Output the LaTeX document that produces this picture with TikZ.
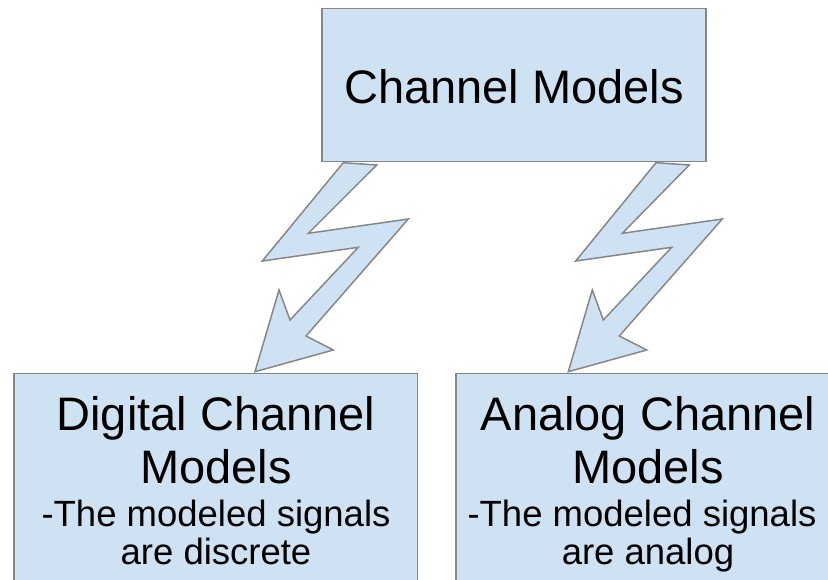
\documentclass[tikz,border=0pt]{standalone}
\usepackage{fontspec}
\setmainfont{Liberation Sans}
\definecolor{boxfill}{HTML}{CFE2F3}
\definecolor{boxline}{HTML}{878787}
\begin{document}
\begin{tikzpicture}[x=1pt,y=-1pt,
  box/.style={draw=boxline,fill=boxfill,line width=1.5pt},
  bolt/.style={draw=boxline,fill=boxfill,line width=1.5pt,line join=miter},
  big/.style={font=\fontsize{47}{54}\selectfont,inner sep=0pt,anchor=base},
  small/.style={font=\fontsize{36.5}{40}\selectfont,inner sep=0pt,anchor=base}]
\clip (0,0) rectangle (828,580);
\fill[white] (0,0) rectangle (828,580);
% boxes
\draw[box] (322,8.3) rectangle (706,161.7);
\draw[box] (14,373.3) rectangle (417.7,600);
\draw[box] (456,373.3) rectangle (840,600);
% top text
\node[big] (top) at (514,103.3) {Channel Models};
% left texts
\node[big] (l1) at (216,430) {Digital Channel};
\node[big] (l2) at (216,483) {Models};
\node[small] (l3) at (216,526.7) {-The modeled signals};
\node[small] (l4) at (216,564) {are discrete};
% right texts
\node[big] (r1) at (648,430) {Analog Channel};
\node[big] (r2) at (648,483) {Models};
\node[small] (r3) at (642,526.7) {-The modeled signals};
\node[small] (r4) at (648,564) {are analog};
% lightning bolts
\draw[bolt] (343.3,162.7) -- (376.7,165) -- (308.3,233.3) -- (408.3,219) -- (306,336) -- (333.3,350) -- (255,371.7) -- (279,290) -- (290,320) -- (358.3,247.3) -- (262.3,261) -- cycle;
\draw[bolt] (656,162.7) -- (689.3,165) -- (622.3,233.3) -- (722.3,219) -- (619.3,336) -- (646.7,350) -- (568.3,371.7) -- (592.3,290) -- (603.3,320) -- (671.7,247.3) -- (575.7,261) -- cycle;
\end{tikzpicture}
\end{document}
